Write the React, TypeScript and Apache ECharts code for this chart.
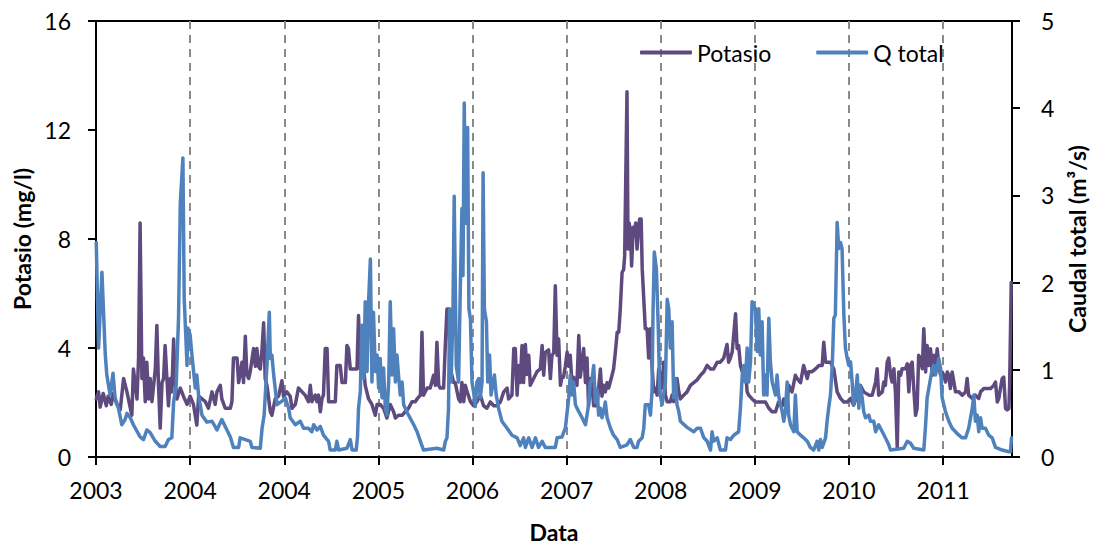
import { useEffect, useRef } from "react";
import * as echarts from "echarts";

const FONT = "Lato, 'Open Sans', sans-serif";
const PURPLE = "#5E4A7E";
const BLUE = "#4F81BD";

// Time is stored as days counted from 1 January 2003.
const START_UTC = Date.UTC(2003, 0, 1);
const DAY_MS = 86400000;
const TICK_STEP_DAYS = 365;
const AXIS_END_DAYS = 3552;

// Potasio (mg/l)
const potasioDia = [
  1, 10, 16, 28, 40, 47, 59, 67, 81, 94, 107, 120, 139, 145, 159, 165, 171, 178, 184, 191,
  197, 204, 210, 217, 230, 236, 242, 249, 256, 262, 268, 275, 281, 288, 294, 301, 307, 314, 327, 339,
  353, 365, 378, 391, 398, 411, 424, 436, 450, 462, 469, 482, 488, 501, 521, 527, 533, 547, 553, 566,
  572, 579, 585, 592, 598, 611, 618, 624, 630, 637, 644, 650, 656, 663, 676, 682, 695, 708, 721, 727,
  740, 753, 760, 773, 785, 799, 811, 824, 831, 837, 850, 857, 863, 870, 876, 882, 889, 896, 902, 928,
  934, 947, 954, 967, 973, 979, 986, 1012, 1018, 1025, 1038, 1044, 1057, 1070, 1083, 1090, 1102, 1115, 1128, 1141,
  1154, 1161, 1173, 1187, 1199, 1212, 1225, 1238, 1245, 1258, 1264, 1270, 1284, 1296, 1309, 1316, 1322, 1329, 1335, 1348,
  1355, 1361, 1367, 1374, 1387, 1393, 1406, 1413, 1419, 1426, 1432, 1439, 1452, 1464, 1477, 1490, 1503, 1516, 1529, 1542,
  1555, 1568, 1581, 1594, 1600, 1613, 1620, 1626, 1633, 1639, 1645, 1652, 1658, 1665, 1671, 1678, 1684, 1697, 1710, 1723,
  1730, 1736, 1742, 1755, 1762, 1768, 1775, 1781, 1788, 1794, 1801, 1807, 1813, 1820, 1827, 1833, 1839, 1846, 1852, 1859,
  1865, 1872, 1878, 1891, 1898, 1904, 1910, 1917, 1924, 1930, 1943, 1949, 1956, 1962, 1969, 1975, 1982, 1988, 2001, 2007,
  2014, 2021, 2027, 2033, 2040, 2046, 2050, 2059, 2063, 2067, 2072, 2077, 2083, 2088, 2093, 2098, 2104, 2108, 2114, 2118,
  2124, 2130, 2137, 2143, 2150, 2156, 2163, 2169, 2176, 2182, 2189, 2195, 2201, 2208, 2215, 2221, 2227, 2234, 2240, 2247,
  2253, 2260, 2266, 2279, 2292, 2305, 2318, 2331, 2344, 2357, 2370, 2383, 2395, 2409, 2421, 2434, 2447, 2453, 2460, 2467,
  2480, 2486, 2492, 2499, 2506, 2518, 2525, 2531, 2544, 2557, 2570, 2583, 2596, 2609, 2622, 2635, 2647, 2661, 2667, 2680,
  2686, 2699, 2712, 2719, 2732, 2744, 2758, 2764, 2777, 2790, 2803, 2816, 2822, 2829, 2835, 2848, 2861, 2874, 2887, 2900,
  2913, 2926, 2938, 2952, 2964, 2977, 2997, 3010, 3023, 3029, 3035, 3049, 3055, 3061, 3068, 3074, 3081, 3087, 3094, 3100,
  3107, 3113, 3120, 3126, 3139, 3146, 3152, 3158, 3165, 3171, 3178, 3184, 3190, 3197, 3204, 3210, 3217, 3223, 3229, 3236,
  3243, 3249, 3255, 3262, 3268, 3275, 3281, 3288, 3294, 3301, 3307, 3313, 3320, 3333, 3346, 3359, 3372, 3378, 3384, 3398,
  3410, 3423, 3430, 3443, 3456, 3469, 3481, 3488, 3495, 3501, 3507, 3514, 3520, 3527, 3533, 3540, 3543, 3549,
];
const potasioValor = [
  2.13, 2.39, 1.83, 2.33, 1.88, 2.23, 1.93, 2.33, 1.93, 1.73, 2.88, 2.39, 1.53, 3.23, 2.13, 3.63, 8.59, 2.88, 3.63, 2.03,
  3.48, 2.13, 2.88, 2.03, 3.23, 4.83, 2.73, 1.06, 2.73, 2.88, 4.09, 2.88, 1.88, 2.88, 2.39, 4.33, 2.73, 2.13, 2.53, 2.23,
  1.93, 2.23, 1.93, 1.17, 2.23, 2.13, 2.03, 1.79, 2.39, 1.93, 2.39, 2.63, 2.13, 1.79, 1.79, 2.03, 3.63, 3.63, 2.73, 3.48,
  2.73, 4.43, 3.03, 2.88, 3.13, 3.98, 3.33, 3.98, 3.33, 3.23, 3.98, 4.93, 2.88, 2.63, 1.66, 1.53, 2.13, 2.23, 2.8, 2.23,
  2.39, 2.23, 1.79, 1.93, 2.53, 2.39, 2.27, 2.03, 2.63, 2.03, 2.27, 2.03, 2.27, 1.66, 2.13, 2.27, 3.98, 3.98, 2.03, 2.03,
  3.36, 3.36, 2.73, 2.73, 4.09, 3.98, 3.23, 3.23, 5.19, 3.23, 3.23, 2.63, 2.13, 1.93, 1.53, 1.93, 1.93, 1.79, 1.43, 1.93,
  1.66, 1.43, 1.53, 1.53, 1.66, 1.79, 2.03, 2.03, 2.13, 2.27, 4.58, 2.27, 2.53, 2.53, 3.0, 2.63, 4.21, 2.63, 2.53, 2.53,
  4.21, 5.43, 5.43, 3.23, 2.73, 2.73, 2.13, 2.03, 2.73, 2.03, 2.63, 2.39, 2.03, 1.88, 2.02, 2.27, 1.88, 1.79, 2.02, 1.88,
  1.88, 2.02, 2.39, 2.53, 2.13, 2.27, 3.98, 3.98, 2.27, 3.36, 2.73, 4.09, 2.73, 4.13, 3.03, 3.73, 2.63, 2.88, 3.13, 3.23,
  4.09, 3.0, 3.83, 3.93, 2.88, 3.73, 3.83, 6.28, 3.73, 4.33, 2.63, 2.93, 2.93, 3.33, 3.85, 3.33, 3.73, 2.63, 2.93, 2.73,
  2.63, 4.46, 2.93, 3.98, 2.73, 3.63, 1.88, 2.88, 2.53, 1.88, 1.88, 2.53, 3.23, 2.23, 2.63, 2.39, 2.73, 2.53, 3.0, 3.23,
  3.85, 4.58, 4.58, 5.43, 6.77, 6.88, 7.38, 13.4, 7.63, 8.59, 8.33, 7.01, 8.43, 8.13, 8.59, 7.63, 8.33, 8.73, 8.73, 6.93,
  5.81, 4.71, 4.71, 3.63, 4.71, 3.36, 2.39, 2.53, 2.27, 3.23, 3.0, 2.53, 3.48, 2.27, 2.03, 2.03, 2.03, 2.27, 2.03, 2.73,
  2.88, 2.39, 2.13, 2.27, 2.39, 2.63, 2.73, 2.83, 3.0, 3.13, 3.36, 3.23, 3.23, 3.48, 3.48, 3.63, 4.13, 3.48, 3.63, 3.85,
  5.26, 3.98, 4.09, 3.36, 3.13, 3.23, 2.39, 2.27, 2.13, 2.02, 2.02, 2.02, 2.02, 1.79, 1.66, 1.66, 2.02, 1.88, 2.13, 2.02,
  2.63, 2.39, 3.0, 2.88, 2.73, 3.36, 2.88, 3.13, 3.13, 3.23, 3.36, 3.36, 4.21, 3.48, 3.48, 3.48, 3.23, 2.39, 2.15, 2.02,
  2.02, 2.15, 1.9, 2.27, 2.63, 2.39, 2.27, 2.27, 2.75, 3.24, 2.27, 2.39, 2.75, 2.63, 3.48, 3.63, 3.0, 2.75, 3.24, 2.39,
  0.33, 3.12, 3.0, 3.24, 3.24, 3.42, 2.39, 3.36, 3.48, 2.53, 1.53, 1.78, 3.73, 3.63, 3.24, 4.71, 3.12, 4.09, 3.36, 3.97,
  3.0, 3.73, 3.24, 3.97, 3.36, 3.0, 3.12, 3.0, 2.75, 3.12, 3.0, 2.51, 3.12, 2.39, 2.39, 2.27, 2.39, 2.88, 2.27, 2.15,
  2.27, 2.15, 2.39, 2.51, 2.51, 2.51, 2.63, 2.75, 2.02, 2.15, 2.51, 2.88, 2.93, 1.78, 1.73, 1.78, 2.75, 6.4,
];

// Q total (m3/s)
const caudalDia = [
  1, 10, 23, 36, 42, 55, 66, 74, 87, 100, 113, 120, 133, 145, 171, 184, 197, 210, 230, 249,
  268, 281, 294, 301, 311, 320, 327, 337, 342, 353, 356, 365, 372, 385, 391, 398, 411, 430, 450, 469,
  488, 501, 521, 533, 553, 559, 579, 598, 605, 637, 644, 652, 663, 672, 676, 682, 689, 702, 721, 734,
  747, 753, 773, 792, 805, 824, 837, 844, 857, 870, 882, 902, 908, 928, 934, 941, 973, 986, 993, 1009,
  1014, 1018, 1025, 1031, 1038, 1044, 1051, 1057, 1064, 1070, 1076, 1083, 1090, 1096, 1102, 1109, 1115, 1122, 1128, 1135,
  1141, 1148, 1154, 1161, 1167, 1173, 1180, 1187, 1193, 1212, 1232, 1245, 1258, 1270, 1322, 1348, 1355, 1361, 1367, 1371,
  1377, 1384, 1389, 1397, 1406, 1413, 1419, 1423, 1428, 1433, 1441, 1446, 1452, 1458, 1464, 1471, 1477, 1484, 1490, 1497,
  1501, 1506, 1514, 1519, 1526, 1532, 1540, 1545, 1552, 1561, 1574, 1594, 1613, 1633, 1645, 1658, 1665, 1678, 1691, 1704,
  1716, 1730, 1742, 1781, 1788, 1807, 1820, 1833, 1839, 1846, 1852, 1859, 1872, 1885, 1898, 1904, 1910, 1917, 1924, 1930,
  1936, 1943, 1949, 1956, 1962, 1969, 1975, 1982, 1995, 2007, 2021, 2033, 2059, 2072, 2085, 2098, 2104, 2118, 2124, 2130,
  2143, 2150, 2156, 2160, 2165, 2173, 2180, 2186, 2195, 2201, 2208, 2215, 2221, 2227, 2234, 2240, 2247, 2253, 2260, 2266,
  2292, 2318, 2331, 2344, 2357, 2370, 2383, 2389, 2395, 2409, 2421, 2441, 2447, 2460, 2473, 2492, 2499, 2506, 2512, 2518,
  2525, 2531, 2538, 2544, 2550, 2557, 2564, 2570, 2576, 2583, 2589, 2596, 2602, 2609, 2615, 2622, 2635, 2641, 2647, 2654,
  2661, 2667, 2673, 2680, 2686, 2693, 2706, 2712, 2719, 2732, 2744, 2758, 2770, 2783, 2796, 2803, 2809, 2816, 2829, 2835,
  2841, 2848, 2855, 2861, 2867, 2874, 2880, 2887, 2893, 2900, 2906, 2913, 2919, 2926, 2932, 2938, 2945, 2952, 2958, 2964,
  2971, 2977, 2984, 2997, 3003, 3016, 3023, 3035, 3049, 3061, 3074, 3081, 3132, 3146, 3158, 3171, 3210, 3217, 3223, 3229,
  3236, 3243, 3249, 3255, 3262, 3268, 3275, 3281, 3294, 3307, 3320, 3333, 3346, 3359, 3372, 3384, 3398, 3404, 3410, 3417,
  3423, 3430, 3436, 3449, 3462, 3475, 3488, 3514, 3540, 3546, 3550,
];
const caudalValor = [
  2.46, 1.25, 2.12, 1.17, 0.94, 0.71, 0.96, 0.68, 0.56, 0.37, 0.43, 0.5, 0.45, 0.37, 0.23, 0.2, 0.31, 0.28, 0.18, 0.12,
  0.12, 0.2, 0.22, 0.63, 0.83, 1.59, 2.92, 3.43, 1.82, 1.05, 1.48, 1.4, 1.17, 0.79, 0.94, 0.7, 0.48, 0.4, 0.41, 0.31,
  0.43, 0.35, 0.23, 0.11, 0.11, 0.22, 0.2, 0.18, 0.11, 0.1, 0.33, 0.48, 1.05, 1.66, 1.13, 1.17, 0.94, 0.6, 0.64, 0.68,
  0.56, 0.45, 0.37, 0.41, 0.33, 0.33, 0.29, 0.37, 0.31, 0.35, 0.25, 0.18, 0.08, 0.08, 0.18, 0.08, 0.1, 0.2, 0.08, 0.08,
  0.23, 0.56, 0.75, 1.51, 0.9, 1.78, 0.98, 1.78, 2.27, 0.86, 1.66, 0.98, 1.17, 0.79, 1.13, 0.68, 1.02, 0.56, 0.48, 0.86,
  1.78, 0.94, 1.47, 0.86, 1.17, 0.94, 0.71, 0.86, 0.6, 0.48, 0.37, 0.29, 0.18, 0.08, 0.1, 0.08, 0.18, 0.22, 0.56, 1.7,
  0.86, 1.63, 2.99, 1.05, 0.86, 1.98, 2.85, 2.08, 4.06, 2.68, 3.78, 1.7, 1.58, 0.86, 0.75, 0.58, 0.86, 0.9, 0.68, 0.86,
  3.26, 1.7, 1.55, 0.86, 1.17, 0.71, 0.86, 0.94, 0.71, 0.56, 0.41, 0.33, 0.25, 0.22, 0.13, 0.22, 0.11, 0.22, 0.11, 0.22,
  0.11, 0.18, 0.11, 0.11, 0.22, 0.23, 0.33, 0.68, 0.94, 0.71, 0.86, 0.6, 0.52, 0.45, 0.37, 0.48, 0.6, 0.86, 0.9, 1.05,
  0.63, 0.78, 0.48, 0.56, 0.45, 0.52, 0.63, 0.45, 0.33, 0.25, 0.2, 0.11, 0.14, 0.2, 0.11, 0.11, 0.18, 0.22, 0.33, 0.6,
  0.6, 0.48, 0.75, 1.66, 2.35, 2.16, 1.52, 0.75, 0.6, 0.71, 0.86, 1.81, 1.7, 1.25, 1.55, 0.68, 0.9, 0.6, 0.52, 0.41,
  0.34, 0.29, 0.33, 0.33, 0.22, 0.18, 0.08, 0.29, 0.18, 0.22, 0.08, 0.08, 0.22, 0.2, 0.25, 0.29, 0.56, 0.94, 1.05, 0.86,
  1.25, 0.86, 1.09, 1.78, 1.74, 1.7, 1.21, 1.7, 1.17, 1.55, 0.71, 0.94, 0.71, 1.59, 1.09, 0.86, 0.71, 0.94, 0.71, 0.6,
  0.52, 0.41, 0.52, 0.86, 0.48, 0.37, 0.29, 0.71, 0.29, 0.25, 0.22, 0.18, 0.11, 0.08, 0.18, 0.08, 0.2, 0.11, 0.22, 0.41,
  0.56, 0.71, 1.05, 1.59, 1.63, 2.69, 2.39, 2.46, 2.39, 1.63, 1.25, 1.13, 1.05, 1.09, 0.86, 0.6, 0.71, 0.94, 0.56, 0.82,
  0.68, 0.52, 0.45, 0.48, 0.41, 0.41, 0.29, 0.37, 0.29, 0.22, 0.14, 0.08, 0.1, 0.18, 0.16, 0.1, 0.08, 0.37, 0.68, 0.78,
  0.9, 1.02, 1.05, 0.94, 1.02, 1.13, 1.02, 0.68, 0.52, 0.41, 0.33, 0.29, 0.25, 0.22, 0.22, 0.33, 0.56, 0.71, 0.41, 0.48,
  0.29, 0.45, 0.33, 0.33, 0.25, 0.22, 0.11, 0.08, 0.06, 0.06, 0.22,
];

const zip = (xs: number[], ys: number[]) => xs.map((x, i) => [x, ys[i]]);

const yearOf = (days: number) =>
  String(new Date(START_UTC + days * DAY_MS).getUTCFullYear());

const xTickDays: number[] = [];
for (let d = 0; d < AXIS_END_DAYS; d += TICK_STEP_DAYS) xTickDays.push(d);

export default function App() {
  const ref = useRef<HTMLDivElement>(null);

  useEffect(() => {
    if (!ref.current) return;
    const chart = echarts.init(ref.current, undefined, { renderer: "svg" });

    const tickLabel = { color: "#000", fontFamily: FONT, fontSize: 23 };
    const axisTitle = { color: "#000", fontFamily: FONT, fontSize: 23, fontWeight: "bold" as const };
    const blackLine = { lineStyle: { color: "#000", width: 2 } };

    chart.setOption({
      animation: false,
      backgroundColor: "#fff",
      textStyle: { fontFamily: FONT },
      grid: {
        left: 96,
        right: 82,
        top: 21,
        bottom: 87,
        outerBoundsMode: "none",
        containLabel: false,
        show: true,
        borderColor: "#000",
        borderWidth: 2,
        backgroundColor: "transparent",
      },
      legend: {
        left: 640,
        top: 41,
        padding: 0,
        itemWidth: 52,
        itemHeight: 4,
        itemGap: 45,
        textStyle: { color: "#000", fontFamily: FONT, fontSize: 23 },
        data: [
          { name: "Potasio", icon: "roundRect" },
          { name: "Q total", icon: "roundRect" },
        ],
      },
      xAxis: {
        type: "value",
        min: 0,
        max: AXIS_END_DAYS,
        interval: TICK_STEP_DAYS,
        name: "Data",
        nameLocation: "middle",
        nameGap: 63,
        nameTextStyle: axisTitle,
        axisLine: { show: true, ...blackLine },
        axisTick: { show: true, length: 8, customValues: xTickDays, ...blackLine },
        axisLabel: {
          ...tickLabel,
          margin: 21,
          customValues: xTickDays,
          formatter: (v: number) => yearOf(v),
        },
        splitLine: {
          show: true,
          lineStyle: { color: "#8a8a8a", width: 2, type: [8, 6] },
        },
      },
      yAxis: [
        {
          type: "value",
          min: 0,
          max: 16,
          interval: 4,
          name: "Potasio (mg/l)",
          nameLocation: "middle",
          nameRotate: 90,
          nameGap: 63,
          nameTextStyle: axisTitle,
          axisLine: { show: true, ...blackLine },
          axisTick: { show: true, length: 8, ...blackLine },
          axisLabel: { ...tickLabel, margin: 25 },
          splitLine: { show: false },
        },
        {
          type: "value",
          position: "right",
          min: 0,
          max: 5,
          interval: 1,
          name: "Caudal total (m³/s)",
          nameLocation: "middle",
          nameRotate: 90,
          nameGap: 53,
          nameTextStyle: axisTitle,
          axisLine: { show: true, ...blackLine },
          axisTick: { show: true, length: 8, ...blackLine },
          axisLabel: { ...tickLabel, margin: 29 },
          splitLine: { show: false },
        },
      ],
      series: [
        {
          name: "Potasio",
          type: "line",
          yAxisIndex: 0,
          data: zip(potasioDia, potasioValor),
          symbol: "none",
          showSymbol: false,
          color: PURPLE,
          lineStyle: { color: PURPLE, width: 3.5, join: "round", cap: "round" },
        },
        {
          name: "Q total",
          type: "line",
          yAxisIndex: 1,
          data: zip(caudalDia, caudalValor),
          symbol: "none",
          showSymbol: false,
          color: BLUE,
          lineStyle: { color: BLUE, width: 3.5, join: "round", cap: "round" },
        },
      ],
    });

    return () => chart.dispose();
  }, []);

  return (
    <div
      ref={ref}
      style={{ position: "fixed", left: 0, top: 0, width: 1094, height: 544, background: "#fff" }}
    />
  );
}
